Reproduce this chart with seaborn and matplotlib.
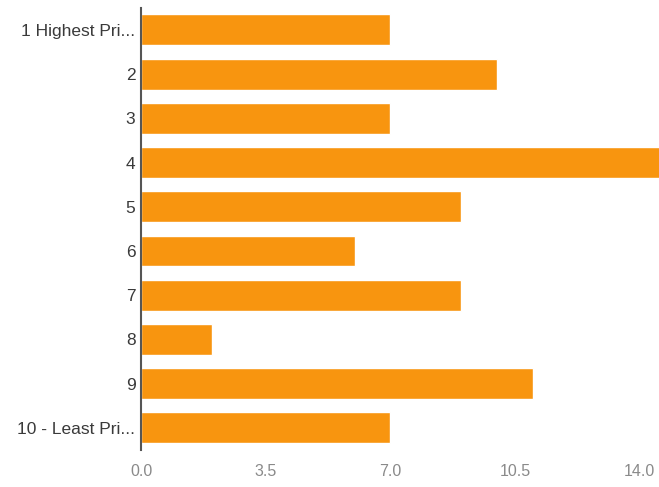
import matplotlib
matplotlib.use("Agg")
import matplotlib.pyplot as plt
import seaborn as sns
import pandas as pd

categories = ["1 Highest Pri...", "2", "3", "4", "5", "6", "7", "8", "9", "10 - Least Pri..."]
counts = [7, 10, 7, 15, 9, 6, 9, 2, 11, 7]
xticks = [0.0, 3.5, 7.0, 10.5, 14.0]
xtick_labels = ["0.0", "3.5", "7.0", "10.5", "14.0"]

sns.set_theme(style="white")
plt.rcParams["font.family"] = ["Liberation Sans", "DejaVu Sans"]

df = pd.DataFrame({"category": categories, "count": counts})

fig = plt.figure(figsize=(6.59, 4.87), dpi=100)
ax = fig.add_axes([0.214, 0.076, 0.786, 0.908])
sns.barplot(data=df, y="category", x="count", orient="h", color="#F8950F",
            saturation=1, width=0.7, ax=ax, order=categories)

ax.set_xlim(0, 14.55)
ax.set_xticks(xticks)
ax.set_xticklabels(xtick_labels)
ax.set_xlabel("")
ax.set_ylabel("")
for s in ["top", "right", "bottom"]:
    ax.spines[s].set_visible(False)
ax.spines["left"].set_color("#555555")
ax.spines["left"].set_linewidth(1.5)
ax.tick_params(axis="y", length=0, pad=4, labelsize=12.5, labelcolor="#3a3a3a")
ax.tick_params(axis="x", length=0, pad=10, labelsize=11.5, labelcolor="#8a8a8a")
ax.grid(False)

fig.savefig("out.png", dpi=100)
